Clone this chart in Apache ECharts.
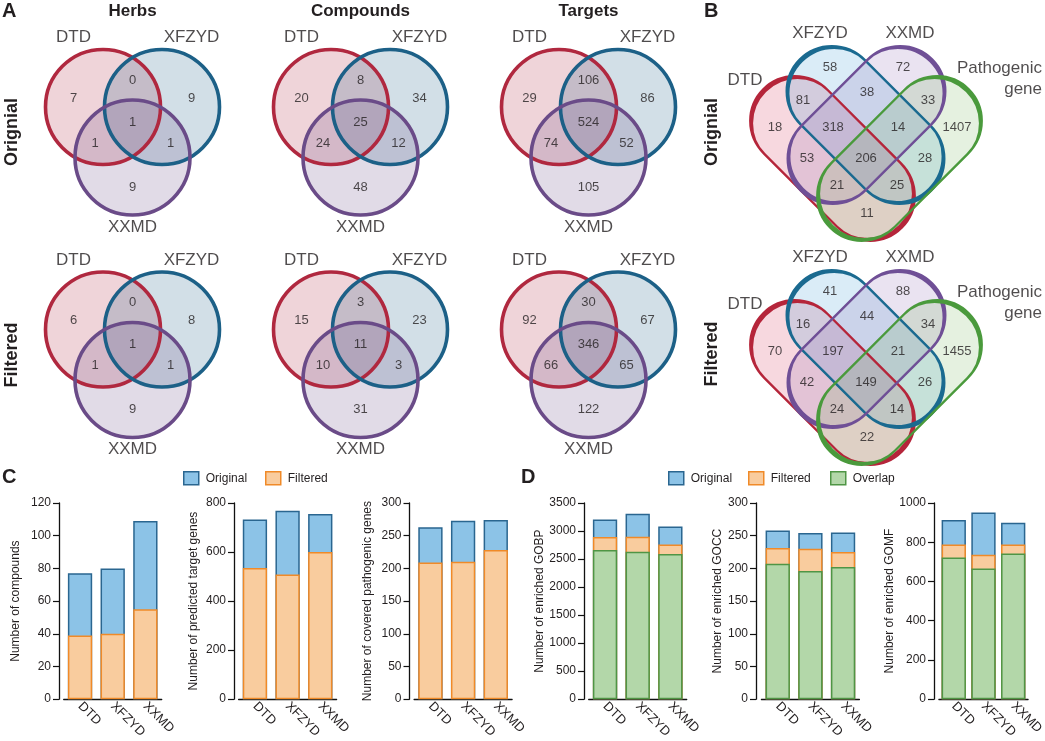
<!DOCTYPE html>
<html><head><meta charset="utf-8">
<script src="https://cdn.jsdelivr.net/npm/echarts@6/dist/echarts.min.js"></script>
<style>html,body{margin:0;padding:0;background:#fff}#c{width:1045px;height:741px}</style>
</head><body><div id="c"></div>
<script>
// ================= DATA =================
const venn3Sets = ['DTD', 'XFZYD', 'XXMD'];
const venn3Columns = ['Herbs', 'Compounds', 'Targets'];
const rowLabels = ['Orignial', 'Filtered'];
// region order: DTD only, DTD∩XFZYD, XFZYD only, all three, DTD∩XXMD, XFZYD∩XXMD, XXMD only
const herbsOriginal     = [7, 0, 9, 1, 1, 1, 9];
const compoundsOriginal = [20, 8, 34, 25, 24, 12, 48];
const targetsOriginal   = [29, 106, 86, 524, 74, 52, 105];
const herbsFiltered     = [6, 0, 8, 1, 1, 1, 9];
const compoundsFiltered = [15, 3, 23, 11, 10, 3, 31];
const targetsFiltered   = [92, 30, 67, 346, 66, 65, 122];

const venn4Sets = ['DTD', 'XFZYD', 'XXMD', 'Pathogenic\ngene'];
// region order: XFZYD only, XXMD only, DTD only, DTD∩XFZYD, XFZYD∩XXMD, XXMD∩Path, Path only,
// DTD∩XFZYD∩XXMD, XFZYD∩XXMD∩Path, DTD∩XXMD, all four, XFZYD∩Path, DTD∩XXMD∩Path, DTD∩XFZYD∩Path, DTD∩Path
const venn4Original = [58, 72, 18, 81, 38, 33, 1407, 318, 14, 53, 206, 28, 21, 25, 11];
const venn4Filtered = [41, 88, 70, 16, 44, 34, 1455, 197, 21, 42, 149, 26, 24, 14, 22];

const barCategories = ['DTD', 'XFZYD', 'XXMD'];
const compoundsOrig = [77, 80, 109];
const compoundsFilt = [39, 40, 55];
const targetGenesOrig = [733, 768, 755];
const targetGenesFilt = [535, 508, 600];
const pathoGenesOrig = [263, 273, 274];
const pathoGenesFilt = [209, 210, 228];
const gobpOrig = [3205, 3310, 3080];
const gobpFilt = [2895, 2898, 2760];
const gobpOverlap = [2660, 2632, 2592];
const goccOrig = [258, 254, 255];
const goccFilt = [231, 230, 225];
const goccOverlap = [207, 196, 202];
const gomfOrig = [913, 952, 899];
const gomfFilt = [789, 736, 789];
const gomfOverlap = [722, 666, 742];

// ================= LAYOUT / STYLE =================
const FONT = '"Liberation Sans", Arial, Helvetica, sans-serif';
const INK = '#231f20';
const V3 = {
  cols: [132.5, 360.5, 588.5], rows: [0, 222.5],
  circles: [[-29.5, 107], [29.5, 107], [0, 157.5]], diameter: 115,
  setLabels: [[-59, 37.5], [59, 37.5], [0, 227]],
  regions: [[-59, 98], [0, 80], [59, 98], [0, 122], [-37.5, 143], [38, 143], [0, 187]],
  stroke: ['#b0283f', '#1c6087', '#6a4b88'],
  fill: ['rgba(176,40,63,0.2)', 'rgba(28,96,135,0.2)', 'rgba(106,75,136,0.2)']
};
const V4 = {
  cx: 866, rows: [158, 382],
  // [dx, dy, rotation, length, width]
  shapes: [[-33.5, 0.5, -45, 193, 90], [-0.5, -33, -45, 183, 91], [0.5, -33, 45, 183, 91], [33.5, 0.5, 45, 193, 90]],
  setLabels: [[-121, -78, 'center'], [-46, -125, 'center'], [44, -125, 'center'], [176, -79.5, 'right']],
  regions: [[-36, -91], [37, -91], [-91, -31], [-63, -58], [1, -66], [62, -58], [91, -31],
            [-33, -31], [32, -31], [-59, 0], [0, 0], [59, 0], [-29, 27], [31, 27], [1, 55]],
  stroke: ['#b5253a', '#1a6a90', '#6f4f96', '#4a9a3c'],
  fill: ['rgba(215,60,95,0.2)', 'rgba(70,160,215,0.2)', 'rgba(140,100,180,0.18)', 'rgba(100,170,70,0.17)']
};
function stadiumPath(L, W) {
  const r = W / 2, k = r * 0.5523, a = r, b = L - r;
  return 'path://M' + a + ',0 L' + b + ',0 C' + (b + k) + ',0 ' + L + ',' + (r - k) + ' ' + L + ',' + r +
    ' C' + L + ',' + (r + k) + ' ' + (b + k) + ',' + W + ' ' + b + ',' + W +
    ' L' + a + ',' + W + ' C' + (a - k) + ',' + W + ' 0,' + (r + k) + ' 0,' + r +
    ' C0,' + (r - k) + ' ' + (a - k) + ',0 ' + a + ',0 Z';
}
const BAR_STYLE = {
  Original: { color: '#8cc3e7', borderColor: '#2a6690' },
  Filtered: { color: '#f9cc9e', borderColor: '#f08a28' },
  Overlap:  { color: '#b3d7a9', borderColor: '#4f9545' }
};

// ================= BUILD =================
const grids = [{ left: 0, top: 0, width: 1045, height: 741 }];
const xAxes = [{ gridIndex: 0, type: 'value', min: 0, max: 1045, show: false }];
const yAxes = [{ gridIndex: 0, type: 'value', min: 0, max: 741, inverse: true, show: false }];
const series = [];

function textSeries(data, fontSize, z) {
  return {
    type: 'scatter', xAxisIndex: 0, yAxisIndex: 0, symbolSize: 1, silent: true, z: z || 5,
    itemStyle: { color: 'rgba(0,0,0,0)' }, emphasis: { disabled: true },
    label: { show: true, position: 'inside', formatter: '{b}', fontSize: fontSize, color: INK, fontFamily: FONT },
    data: data
  };
}

// ---- Panel A: 3-set Venns ----
const venn3Values = [[herbsOriginal, compoundsOriginal, targetsOriginal],
                     [herbsFiltered, compoundsFiltered, targetsFiltered]];
function circlePoints(s) {
  const pts = [];
  V3.rows.forEach(ry => V3.cols.forEach(cx => pts.push([cx + V3.circles[s][0], ry + V3.circles[s][1]])));
  return pts;
}
venn3Sets.forEach((name, s) => {
  series.push({ type: 'scatter', xAxisIndex: 0, yAxisIndex: 0, symbol: 'circle', symbolSize: V3.diameter,
    silent: true, z: 1, emphasis: { disabled: true },
    itemStyle: { color: V3.fill[s], borderWidth: 0, opacity: 1 }, data: circlePoints(s) });
});
venn3Sets.forEach((name, s) => {
  series.push({ type: 'scatter', xAxisIndex: 0, yAxisIndex: 0, symbol: 'circle', symbolSize: V3.diameter,
    silent: true, z: 2, emphasis: { disabled: true },
    itemStyle: { color: 'rgba(0,0,0,0)', borderColor: V3.stroke[s], borderWidth: 3.6, opacity: 1 }, data: circlePoints(s) });
});
const v3Names = [], v3Counts = [];
V3.rows.forEach((ry, r) => V3.cols.forEach((cx, c) => {
  venn3Sets.forEach((n, s) => v3Names.push({ name: n, value: [cx + V3.setLabels[s][0], ry + V3.setLabels[s][1]] }));
  venn3Values[r][c].forEach((v, k) => v3Counts.push({ name: String(v), value: [cx + V3.regions[k][0], ry + V3.regions[k][1]] }));
}));
series.push(textSeries(v3Names, 17));
series.push(textSeries(v3Counts, 13));

// ---- Panel B: 4-set Venns ----
const venn4Values = [venn4Original, venn4Filtered];
function shapeSeries(s, fillMode) {
  const sh = V4.shapes[s];
  return { type: 'scatter', xAxisIndex: 0, yAxisIndex: 0, symbol: stadiumPath(sh[3], sh[4]), symbolSize: [sh[3], sh[4]],
    symbolRotate: sh[2], silent: true, z: fillMode ? 1 : 2, emphasis: { disabled: true },
    itemStyle: fillMode ? { color: V4.fill[s], borderWidth: 0, opacity: 1 }
                        : { color: 'rgba(0,0,0,0)', borderColor: V4.stroke[s], borderWidth: 3.5, opacity: 1 },
    data: V4.rows.map(ry => [V4.cx + sh[0], ry + sh[1]]) };
}
venn4Sets.forEach((name, s) => series.push(shapeSeries(s, true)));
venn4Sets.forEach((name, s) => series.push(shapeSeries(s, false)));
const v4Names = [], v4Counts = [];
V4.rows.forEach((ry, r) => {
  venn4Sets.forEach((n, s) => v4Names.push({ name: n, value: [V4.cx + V4.setLabels[s][0], ry + V4.setLabels[s][1]],
    label: { align: V4.setLabels[s][2], lineHeight: 21 } }));
  venn4Values[r].forEach((v, k) => v4Counts.push({ name: String(v), value: [V4.cx + V4.regions[k][0], ry + V4.regions[k][1]] }));
});
series.push(textSeries(v4Names, 17));
series.push(textSeries(v4Counts, 13));

// ---- Panels C & D: bar charts ----
const barCharts = [
  { left: 63.7, axisX: 59,    max: 120,  interval: 20,  name: 'Number of compounds', nameGap: 37,
    bars: [['Original', compoundsOrig], ['Filtered', compoundsFilt]] },
  { left: 238.6, axisX: 234,  max: 800,  interval: 200, name: 'Number of predicted target genes', nameGap: 34,
    bars: [['Original', targetGenesOrig], ['Filtered', targetGenesFilt]] },
  { left: 414.1, axisX: 409.5, max: 300, interval: 50,  name: 'Number of covered pathogenic genes', nameGap: 36,
    bars: [['Original', pathoGenesOrig], ['Filtered', pathoGenesFilt]] },
  { left: 588.7, axisX: 584,  max: 3500, interval: 500, name: 'Number of enriched GOBP', nameGap: 36,
    bars: [['Original', gobpOrig], ['Filtered', gobpFilt], ['Overlap', gobpOverlap]] },
  { left: 761.4, axisX: 756,  max: 300,  interval: 50,  name: 'Number of enriched GOCC', nameGap: 29,
    bars: [['Original', goccOrig], ['Filtered', goccFilt], ['Overlap', goccOverlap]] },
  { left: 938.9, axisX: 934,  max: 1000, interval: 200, name: 'Number of enriched GOMF', nameGap: 36,
    bars: [['Original', gomfOrig], ['Filtered', gomfFilt], ['Overlap', gomfOverlap]] }
];
barCharts.forEach((bc, i) => {
  const g = i + 1;
  grids.push({ left: bc.left, top: 503, width: 98, height: 200 });
  xAxes.push({ gridIndex: g, type: 'category', data: barCategories,
    axisLine: { show: true, lineStyle: { color: '#111', width: 1.3 } },
    axisTick: { show: false },
    axisLabel: { rotate: -45, fontSize: 13, color: INK, fontFamily: FONT, margin: 5, interval: 0 } });
  yAxes.push({ gridIndex: g, type: 'value', min: 0, max: bc.max, interval: bc.interval,
    offset: bc.left - bc.axisX,
    axisLine: { show: true, lineStyle: { color: '#111', width: 1.3 } },
    axisTick: { show: true, length: 6, lineStyle: { color: '#111', width: 1.2 } },
    axisLabel: { fontSize: 12, color: INK, fontFamily: FONT, margin: 8, formatter: v => String(v) },
    splitLine: { show: false },
    name: bc.name, nameLocation: 'middle', nameGap: bc.nameGap,
    nameTextStyle: { fontSize: 12, color: INK, fontFamily: FONT } });
  bc.bars.forEach(([name, vals]) => {
    series.push({ type: 'bar', name: name, xAxisIndex: g, yAxisIndex: g, data: vals,
      barWidth: 24.3, barGap: '-100%', silent: true, emphasis: { disabled: true },
      itemStyle: { color: BAR_STYLE[name].color, borderColor: BAR_STYLE[name].borderColor, borderWidth: 1.5 } });
  });
});

const legendItems = [['Original', 183], ['Filtered', 265], ['Original', 668], ['Filtered', 748], ['Overlap', 830]];
const legends = legendItems.map(([name, left]) => ({
  left: left, top: 471, padding: 0, itemWidth: 15, itemHeight: 13, selectedMode: false,
  textStyle: { fontSize: 12, color: INK, fontFamily: FONT, padding: [0, 0, 0, 2] },
  data: [{ name: name, icon: 'rect',
    itemStyle: { color: BAR_STYLE[name].color, borderColor: BAR_STYLE[name].borderColor, borderWidth: 1.5 } }]
}));

// ---- static texts ----
function txt(text, x, y, font, align, rot) {
  return { type: 'text', x: x, y: y, rotation: rot || 0, silent: true, z: 100,
    style: { text: text, font: font, fill: INK, textAlign: align || 'center', textVerticalAlign: 'middle' } };
}
const BOLD_L = 'bold 20px ' + FONT, BOLD_T = 'bold 17px ' + FONT, BOLD_R = 'bold 18px ' + FONT;
const graphics = [
  txt('A', 2, 11, BOLD_L, 'left'), txt('B', 704, 11, BOLD_L, 'left'),
  txt('C', 2, 477, BOLD_L, 'left'), txt('D', 521, 477, BOLD_L, 'left')
];
venn3Columns.forEach((t, c) => graphics.push(txt(t, V3.cols[c], 11.5, BOLD_T)));
rowLabels.forEach((t, r) => {
  graphics.push(txt(t, 12, [132, 355][r], BOLD_R, 'center', Math.PI / 2));
  graphics.push(txt(t, 712, [132, 354][r], BOLD_R, 'center', Math.PI / 2));
});

const chart = echarts.init(document.getElementById('c'), null, { renderer: 'canvas', width: 1045, height: 741 });
chart.setOption({
  animation: false,
  backgroundColor: '#ffffff',
  textStyle: { fontFamily: FONT },
  grid: grids, xAxis: xAxes, yAxis: yAxes,
  legend: legends,
  series: series,
  graphic: graphics
});
</script></body></html>
